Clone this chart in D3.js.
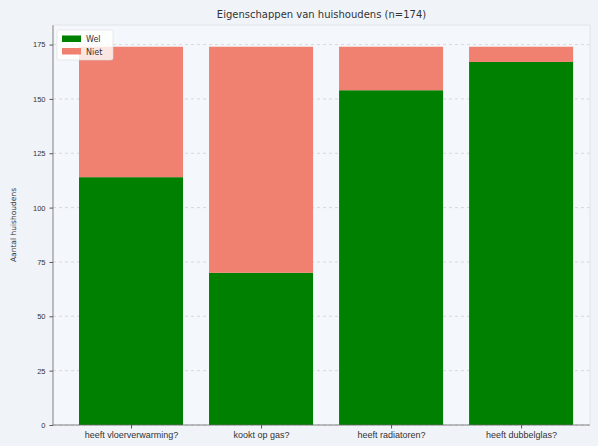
<!DOCTYPE html>
<html><head><meta charset="utf-8">
<script src="https://cdn.jsdelivr.net/npm/d3@7"></script>
<style>
html,body{margin:0;padding:0;background:#f0f4f9;}
svg{display:block;font-family:"DejaVu Sans",sans-serif;}
</style></head>
<body><svg id="c" width="598" height="446"></svg>
<script>
const categories = ["heeft vloerverwarming?", "kookt op gas?", "heeft radiatoren?", "heeft dubbelglas?"];
const welValues = [114, 70, 154, 167];
const nietValues = [60, 104, 20, 7];
const yTicks = [0, 25, 50, 75, 100, 125, 150, 175];
const seriesNames = ["Wel", "Niet"];
const seriesColors = ["#008000", "#f08070"];
const titleText = "Eigenschappen van huishoudens (n=174)";
const yLabel = "Aantal huishoudens";

const svg = d3.select("#c");
const L = 53, R = 590, T = 25, B = 425;

svg.append("rect").attr("x",0).attr("y",0).attr("width",598).attr("height",446).attr("fill","#f0f4f9");
svg.append("rect").attr("x",L).attr("y",T).attr("width",R-L).attr("height",B-T).attr("fill","#f4f7fb");

const x = d3.scaleLinear().domain([-0.6, 3.53]).range([L, R]);
const y = d3.scaleLinear().domain([0, 184]).range([B, T]);
const bw = x(0.8) - x(0);

// grid
svg.append("g").selectAll("line").data(yTicks).join("line")
  .attr("x1", L).attr("x2", R).attr("y1", d=>y(d)).attr("y2", d=>y(d))
  .attr("stroke","#c8ccd0").attr("stroke-dasharray","3,3").attr("stroke-width",0.7);

const data = categories.map((c,i)=>({c, i, wel: welValues[i], niet: nietValues[i]}));
svg.append("g").selectAll("rect").data(data).join("rect")
  .attr("x", d=>x(d.i)-bw/2).attr("width", bw)
  .attr("y", d=>y(d.wel)).attr("height", d=>y(0)-y(d.wel))
  .attr("fill", seriesColors[0]);
svg.append("g").selectAll("rect").data(data).join("rect")
  .attr("x", d=>x(d.i)-bw/2).attr("width", bw)
  .attr("y", d=>y(d.wel+d.niet)).attr("height", d=>y(d.wel)-y(d.wel+d.niet))
  .attr("fill", seriesColors[1]);

// axes
const yAxis = d3.axisLeft(y).tickValues(yTicks).tickSize(3.5).tickPadding(4);
const gy = svg.append("g").attr("transform",`translate(${L},0)`).call(yAxis);
gy.select(".domain").remove();
gy.selectAll("text").attr("font-size","7.5px").attr("fill","#333");
gy.selectAll("line").attr("stroke","#555");

const xAxis = d3.axisBottom(x).tickValues(d3.range(categories.length)).tickFormat(i=>categories[i]).tickSize(3.5).tickPadding(3);
const gx = svg.append("g").attr("transform",`translate(0,${B})`).call(xAxis);
gx.select(".domain").remove();
gx.selectAll("text").attr("font-size","9px").attr("fill","#333");
gx.selectAll("line").attr("stroke","#555");

// spines
svg.append("line").attr("x1",L).attr("x2",L).attr("y1",T).attr("y2",B).attr("stroke","#666").attr("stroke-width",0.8);
svg.append("line").attr("x1",L).attr("x2",R).attr("y1",B).attr("y2",B).attr("stroke","#666").attr("stroke-width",0.8);
svg.append("line").attr("x1",L).attr("x2",R).attr("y1",T).attr("y2",T).attr("stroke","#dde1e6").attr("stroke-width",0.8);
svg.append("line").attr("x1",R).attr("x2",R).attr("y1",T).attr("y2",B).attr("stroke","#dde1e6").attr("stroke-width",0.8);

// title
svg.append("text").attr("x",(L+R)/2).attr("y",18).attr("text-anchor","middle")
  .attr("font-size","10px").attr("fill","#333").text(titleText);
// y label
svg.append("text").attr("transform",`translate(16,${(T+B)/2}) rotate(-90)`).attr("text-anchor","middle")
  .attr("font-size","7.5px").attr("fill","#333").text(yLabel);

// legend
const lg = svg.append("g").attr("transform",`translate(57,30)`);
lg.append("rect").attr("x",0).attr("y",0).attr("width",56).attr("height",30).attr("rx",2)
  .attr("fill","#ffffff").attr("fill-opacity",0.8).attr("stroke","#ddd").attr("stroke-width",0.6);
seriesNames.forEach((n,i)=>{
  lg.append("rect").attr("x",5).attr("y",5.5+i*12.5).attr("width",19).attr("height",6.5).attr("fill",seriesColors[i]);
  lg.append("text").attr("x",29).attr("y",12+i*12.5).attr("font-size","8px").attr("fill","#333").text(n);
});
</script></body></html>
